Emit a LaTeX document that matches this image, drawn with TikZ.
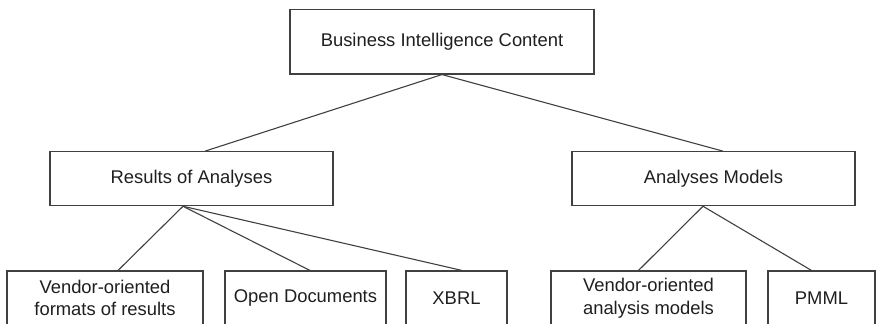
\documentclass[tikz,border=0pt]{standalone}
\usepackage{fontspec}
\setmainfont{Liberation Sans}
\usetikzlibrary{calc}
\begin{document}
\begin{tikzpicture}[x=1pt,y=-1pt,
  box/.style={draw=black!75, line width=1.1pt, fill=white, rectangle,
    inner sep=0pt, align=center, text=black!88,
    font=\fontsize{18.4}{22.5}\selectfont},
  link/.style={draw=black!75, line width=1.1pt}]
\useasboundingbox (0,0) rectangle (876,324);
\clip (0,0) rectangle (876,324);

% root
\node[box, minimum width=304pt, minimum height=64.5pt] (bic) at (442,41.75) {Business Intelligence Content};

% second level
\node[box, minimum width=283pt, minimum height=54pt] (roa) at (191.5,178.7) {Results of Analyses};
\node[box, minimum width=283pt, minimum height=54pt] (am) at (713.5,178.7) {Analyses Models};

% leaves
\node[box, minimum width=196pt, minimum height=54pt] (vfr) at (105,298) {Vendor-oriented\\formats of results};
\node[box, minimum width=161pt, minimum height=54pt] (od) at (305.5,298) {Open Documents};
\node[box, minimum width=101pt, minimum height=54pt] (xbrl) at (456.5,298) {XBRL};
\node[box, minimum width=195pt, minimum height=54pt] (vam) at (648.5,298) {Vendor-oriented\\analysis models};
\node[box, minimum width=107pt, minimum height=54pt] (pmml) at (821.5,298) {PMML};

% connectors
\draw[link] (bic.south) -- ([xshift=13.5pt]roa.north);
\draw[link] (bic.south) -- ([xshift=9.5pt]am.north);

\coordinate (roab) at ([xshift=-8.5pt]roa.south);
\draw[link] (roab) -- ([xshift=13pt]vfr.north);
\draw[link] (roab) -- ([xshift=4.5pt]od.north);
\draw[link] (roab) -- ([xshift=5.5pt]xbrl.north);

\coordinate (amb) at ([xshift=-10.5pt]am.south);
\draw[link] (amb) -- ([xshift=-10pt]vam.north);
\draw[link] (amb) -- ([xshift=-10pt]pmml.north);
\end{tikzpicture}
\end{document}
